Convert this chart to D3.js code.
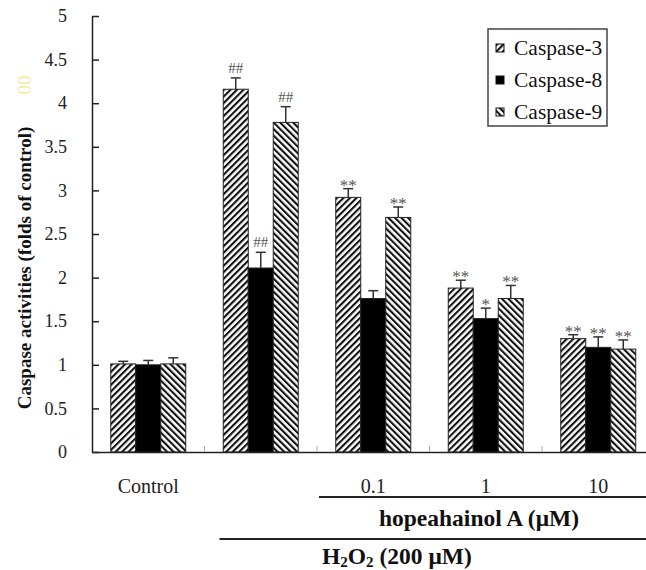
<!DOCTYPE html>
<html>
<head>
<meta charset="utf-8">
<script src="https://cdn.jsdelivr.net/npm/d3@7"></script>
<style>
  html, body { margin: 0; padding: 0; background: #fff; }
  svg, svg text { font-family: 'Liberation Serif', 'DejaVu Serif', 'Noto Serif', 'Times New Roman', Times, serif !important; }
</style>
</head>
<body>
<svg id="chart" width="646" height="570"></svg>
<script>
// ---- data ----
const groups = ["Control", "H2O2", "0.1", "1", "10"];
const groupLabels = ["Control", "", "0.1", "1", "10"];
const seriesNames = ["Caspase-3", "Caspase-8", "Caspase-9"];
const caspase3 = [1.01, 4.16, 2.92, 1.88, 1.30];
const caspase8 = [1.00, 2.11, 1.76, 1.53, 1.20];
const caspase9 = [1.01, 3.78, 2.69, 1.76, 1.18];
const err3 = [0.03, 0.13, 0.10, 0.09, 0.045];
const err8 = [0.05, 0.18, 0.09, 0.12, 0.12];
const err9 = [0.07, 0.18, 0.12, 0.15, 0.105];
const marks3 = ["", "##", "**", "**", "**"];
const marks8 = ["", "##", "", "*", "**"];
const marks9 = ["", "##", "**", "**", "**"];
const yTicks = [0, 0.5, 1, 1.5, 2, 2.5, 3, 3.5, 4, 4.5, 5];

(function () {
const values = [caspase3, caspase8, caspase9];
const errors = [err3, err8, err9];
const marks = [marks3, marks8, marks9];

const svg = d3.select("#chart");
const mLeft = 92, mBottom = 452, mTop = 16;
const groupStep = 112.5;

const y = d3.scaleLinear().domain([0, 5]).range([mBottom, mTop]);
const x0 = d3.scaleBand().domain(groups).range([mLeft, mLeft + groupStep * groups.length]).padding(0);
const x1 = d3.scaleBand().domain(seriesNames).range([0, x0.bandwidth()]).paddingInner(0).paddingOuter(0.75);

// ---- patterns ----
const defs = svg.append("defs");
function stripePattern(id, angle) {
  const p = defs.append("pattern").attr("id", id)
    .attr("patternUnits", "userSpaceOnUse").attr("width", 4.6).attr("height", 4.6)
    .attr("patternTransform", `rotate(${angle})`);
  p.append("rect").attr("width", 4.6).attr("height", 4.6).attr("fill", "#fff");
  p.append("rect").attr("width", 2.1).attr("height", 4.6).attr("fill", "#111");
}
stripePattern("p3", 45);
stripePattern("p9", -45);
const fills = ["url(#p3)", "#000", "url(#p9)"];

// ---- bars ----
const data = [];
groups.forEach((g, gi) => {
  seriesNames.forEach((s, si) => {
    data.push({ g, s, si, v: values[si][gi], e: errors[si][gi], m: marks[si][gi] });
  });
});

svg.append("g").selectAll("rect").data(data).join("rect")
  .attr("x", d => x0(d.g) + x1(d.s))
  .attr("y", d => y(d.v))
  .attr("width", x1.bandwidth())
  .attr("height", d => y(0) - y(d.v))
  .attr("fill", d => fills[d.si])
  .attr("stroke", "#222")
  .attr("stroke-width", 1);

// error bars (upper only)
const errG = svg.append("g").attr("stroke", "#333").attr("stroke-width", 1.5);
data.forEach(d => {
  const cx = x0(d.g) + x1(d.s) + x1.bandwidth() / 2;
  errG.append("line").attr("x1", cx).attr("x2", cx).attr("y1", y(d.v)).attr("y2", y(d.v + d.e));
  errG.append("line").attr("x1", cx - 5).attr("x2", cx + 5).attr("y1", y(d.v + d.e)).attr("y2", y(d.v + d.e));
});

// significance marks
svg.append("g").selectAll("text").data(data.filter(d => d.m)).join("text")
  .attr("x", d => x0(d.g) + x1(d.s) + x1.bandwidth() / 2)
  .attr("y", d => y(d.v + d.e) - (d.m[0] === "#" ? 5 : -2))
  .attr("text-anchor", "middle")
  .attr("font-size", d => d.m[0] === "#" ? 15 : 17)
  .attr("fill", "#555")
  .text(d => d.m);

// ---- axes ----
const yAxis = svg.append("g").attr("transform", `translate(${mLeft},0)`)
  .call(d3.axisLeft(y).tickValues(yTicks).tickSizeInner(-7).tickSizeOuter(0).tickPadding(25)
    .tickFormat(d => String(d)));
yAxis.attr("font-family", null).attr("font-size", null);
yAxis.select(".domain").attr("stroke", "#222").attr("stroke-width", 1.5);
yAxis.selectAll(".tick line").attr("stroke", "#222").attr("stroke-width", 1.5);
yAxis.selectAll(".tick text").attr("font-size", 18).attr("fill", "#222");

const xAxis = svg.append("g").attr("transform", `translate(0,${mBottom})`)
  .call(d3.axisBottom(x0).tickSize(0).tickFormat(""));
xAxis.attr("font-family", null);
xAxis.select(".domain").attr("stroke", "#222").attr("stroke-width", 1.5);
svg.append("g").selectAll("line").data(groups.slice(1)).join("line")
  .attr("x1", d => x0(d)).attr("x2", d => x0(d))
  .attr("y1", mBottom).attr("y2", mBottom - 6)
  .attr("stroke", "#aaa").attr("stroke-width", 1);

// category labels
svg.append("g").selectAll("text").data(groups).join("text")
  .attr("x", d => x0(d) + x0.bandwidth() / 2)
  .attr("y", 493)
  .attr("text-anchor", "middle")
  .attr("font-size", 20)
  .attr("fill", "#222")
  .text((d, i) => groupLabels[i]);

// bracket lines
svg.append("line").attr("x1", x0("0.1") + 2).attr("x2", 646).attr("y1", 497).attr("y2", 497)
  .attr("stroke", "#222").attr("stroke-width", 2);
svg.append("line").attr("x1", x0("H2O2") + 15).attr("x2", 646).attr("y1", 539).attr("y2", 539)
  .attr("stroke", "#222").attr("stroke-width", 2);

svg.append("text").attr("x", 479).attr("y", 526).attr("text-anchor", "middle")
  .attr("font-size", 23.5).attr("font-weight", "bold").attr("fill", "#111")
  .text("hopeahainol A (μM)");

const h2 = svg.append("text").attr("x", 322).attr("y", 564)
  .attr("font-size", 23.5).attr("font-weight", "bold").attr("fill", "#111");
h2.append("tspan").text("H");
h2.append("tspan").attr("font-size", 15).attr("dy", 3).text("2");
h2.append("tspan").attr("dy", -3).text("O");
h2.append("tspan").attr("font-size", 15).attr("dy", 3).text("2");
h2.append("tspan").attr("dy", -3).text(" (200 μM)");

// y-axis title
svg.append("text")
  .attr("transform", "translate(31,268) rotate(-90)")
  .attr("text-anchor", "middle")
  .attr("font-size", 19).attr("font-weight", "bold").attr("fill", "#111")
  .text("Caspase activities (folds of control)");
svg.append("text")
  .attr("transform", "translate(31,85) rotate(-90)")
  .attr("text-anchor", "middle")
  .attr("font-size", 19).attr("fill", "#f1eca0")
  .text("00");

// ---- legend ----
const lg = svg.append("g");
lg.append("rect").attr("x", 488).attr("y", 29).attr("width", 119).attr("height", 97)
  .attr("fill", "#fff").attr("stroke", "#444").attr("stroke-width", 1.5);
const rowsY = [48, 80, 112];
seriesNames.forEach((s, i) => {
  lg.append("rect").attr("x", 496).attr("y", rowsY[i] - 4).attr("width", 8).attr("height", 8)
    .attr("fill", fills[i]).attr("stroke", "#111").attr("stroke-width", 1);
  lg.append("text").attr("x", 514).attr("y", rowsY[i] + 7)
    .attr("font-size", 21.5).attr("fill", "#111").text(s);
});
})();
</script>
</body>
</html>
